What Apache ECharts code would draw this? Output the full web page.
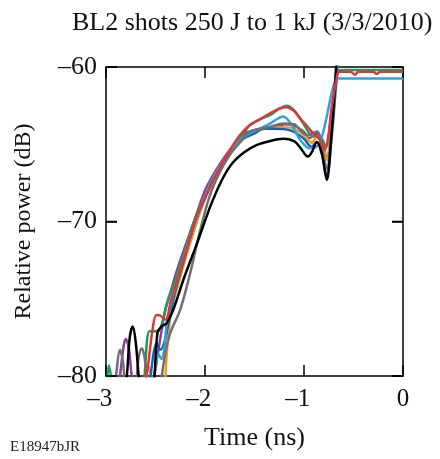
<!DOCTYPE html>
<html>
<head>
<meta charset="utf-8">
<script src="https://cdn.jsdelivr.net/npm/echarts@6/dist/echarts.min.js"></script>
<style>
html,body{margin:0;padding:0;background:#fff;}
#c{width:440px;height:459px;}
</style>
</head>
<body>
<div id="c"></div>
<script>
// Time (ns), relative power (dB) pairs
var purpleData = [[-2.92,-82.5],[-2.86,-80],[-2.82,-78],[-2.80,-77.6],[-2.77,-78.2],[-2.74,-80],[-2.68,-82.5],[-2.58,-82],[-2.5,-79.5],[-2.45,-77.5],[-2.40,-75.7],[-2.34,-74.4],[-2.29,-73.3],[-2.2,-71.6],[-2.1,-69.8],[-2.0,-68.0],[-1.9,-66.8],[-1.8,-65.8],[-1.7,-65.0],[-1.6,-64.3],[-1.5,-64.1],[-1.4,-64.0],[-1.3,-63.9],[-1.2,-63.7],[-1.1,-63.8],[-1.0,-64.2],[-0.95,-64.6],[-0.87,-64.3],[-0.81,-65.0],[-0.77,-66.0],[-0.72,-63.5],[-0.66,-59.5],[-0.6,-57],[0,-57]];
var greenData = [[-3.0,-81.5],[-2.97,-79.3],[-2.94,-80.5],[-2.9,-83],[-2.7,-83],[-2.62,-80.5],[-2.56,-77.1],[-2.5,-77.1],[-2.45,-76.9],[-2.38,-75.2],[-2.3,-73.8],[-2.2,-71.8],[-2.1,-69.8],[-2.0,-68.3],[-1.9,-67.0],[-1.8,-65.9],[-1.7,-65.0],[-1.6,-64.2],[-1.545,-63.75],[-1.45,-63.4],[-1.34,-63.1],[-1.25,-62.7],[-1.175,-62.5],[-1.1,-62.8],[-1.007,-63.65],[-0.906,-64.5],[-0.84,-64.5],[-0.78,-65.16],[-0.72,-62.8],[-0.66,-60.3],[-0.6,-60.2],[0,-60.2]];
var orangeData = [[-2.64,-82],[-2.59,-80],[-2.57,-79.4],[-2.54,-80.2],[-2.5,-83],[-2.43,-83],[-2.40,-80],[-2.37,-77.2],[-2.33,-75.5],[-2.25,-73.6],[-2.15,-71.4],[-2.05,-69.4],[-1.95,-67.7],[-1.85,-66.5],[-1.75,-65.5],[-1.65,-64.8],[-1.55,-64.3],[-1.45,-64.0],[-1.35,-63.9],[-1.2,-63.9],[-1.1,-64.0],[-1.0,-64.4],[-0.92,-64.9],[-0.87,-64.5],[-0.82,-65.0],[-0.77,-66.0],[-0.72,-63.5],[-0.67,-60.5],[-0.63,-58],[-0.6,-57],[0,-57]];
var blueData = [[-2.58,-82],[-2.53,-79],[-2.49,-77.9],[-2.45,-78.3],[-2.41,-77.8],[-2.36,-76.3],[-2.3,-74.5],[-2.2,-72.2],[-2.1,-70.0],[-2.0,-68.5],[-1.9,-67.1],[-1.8,-66.0],[-1.7,-65.2],[-1.6,-64.6],[-1.5,-64.3],[-1.41,-64.0],[-1.3,-64.0],[-1.14,-64.1],[-1.007,-64.6],[-0.923,-65.16],[-0.87,-64.85],[-0.82,-65.6],[-0.77,-67.1],[-0.72,-64.5],[-0.68,-61.5],[-0.64,-58.5],[-0.6,-57],[0,-57]];
var lightBlueData = [[-2.55,-82],[-2.5,-79.5],[-2.47,-78.6],[-2.44,-78.9],[-2.41,-78.2],[-2.39,-76.8],[-2.33,-75.0],[-2.25,-73.2],[-2.15,-71.0],[-2.05,-69.2],[-1.95,-67.6],[-1.85,-66.4],[-1.75,-65.5],[-1.65,-64.8],[-1.55,-64.3],[-1.45,-64.0],[-1.35,-63.7],[-1.28,-63.4],[-1.21,-63.2],[-1.12,-63.8],[-1.04,-64.7],[-0.94,-65.26],[-0.855,-65.05],[-0.81,-64.3],[-0.77,-63.2],[-0.704,-61.27],[-0.66,-60.73],[-0.6,-60.75],[0,-60.75]];
var grayData = [[-2.93,-82],[-2.89,-79.5],[-2.86,-78.3],[-2.83,-79],[-2.79,-81],[-2.72,-81],[-2.67,-78.8],[-2.64,-78.2],[-2.61,-78.8],[-2.57,-81],[-2.5,-82],[-2.45,-80.5],[-2.40,-78.5],[-2.35,-77.2],[-2.25,-75.7],[-2.15,-73.35],[-2.05,-70.6],[-1.95,-68.3],[-1.85,-66.8],[-1.75,-65.7],[-1.65,-64.9],[-1.55,-64.2],[-1.45,-64.0],[-1.35,-63.9],[-1.21,-63.65],[-1.1,-63.7],[-1.07,-63.86],[-0.97,-64.4],[-0.87,-64.18],[-0.82,-65.2],[-0.77,-66.6],[-0.72,-64.0],[-0.687,-61.5],[-0.65,-58.5],[-0.6,-57],[0,-57]];
var blackData = [[-2.85,-83],[-2.79,-80],[-2.76,-77.5],[-2.73,-76.8],[-2.70,-77.8],[-2.67,-80],[-2.62,-83],[-2.55,-82.5],[-2.51,-80],[-2.48,-77.2],[-2.44,-76.8],[-2.39,-76.6],[-2.32,-75.7],[-2.22,-73.8],[-2.08,-71.4],[-1.98,-69.6],[-1.92,-68.6],[-1.82,-67.2],[-1.72,-66.2],[-1.6,-65.5],[-1.48,-65.05],[-1.35,-64.8],[-1.21,-64.65],[-1.1,-64.8],[-1.04,-65.2],[-0.96,-65.8],[-0.92,-65.5],[-0.87,-64.85],[-0.82,-65.6],[-0.77,-67.3],[-0.73,-65],[-0.69,-61.5],[-0.65,-58],[-0.6,-57],[0,-57]];
var redData = [[-2.66,-82],[-2.58,-79.5],[-2.53,-77.0],[-2.49,-76.05],[-2.45,-76.1],[-2.40,-76.35],[-2.34,-75.0],[-2.29,-74.0],[-2.185,-71.85],[-2.085,-69.7],[-1.98,-68.2],[-1.882,-66.88],[-1.76,-65.5],[-1.646,-64.4],[-1.545,-63.75],[-1.45,-63.4],[-1.343,-63.0],[-1.25,-62.7],[-1.175,-62.6],[-1.1,-62.85],[-1.04,-63.32],[-0.96,-63.9],[-0.906,-64.3],[-0.84,-64.7],[-0.79,-65.37],[-0.755,-64.5],[-0.72,-62.6],[-0.66,-60.4],[-0.64,-60.3],[-0.53,-60.3],[-0.485,-60.5],[-0.45,-60.3],[-0.3,-60.3],[-0.266,-60.45],[-0.23,-60.3],[0,-60.3]];

var seriesNames = ['purple','green','orange','blue','lightblue','gray','black','red'];
var seriesValues = [purpleData, greenData, orangeData, blueData, lightBlueData, grayData, blackData, redData];
var seriesColors = ['#8a3f9e','#17a05a','#f39a1e','#1463b4','#2ea3e0','#707070','#000000','#e2333a'];

var xTicks = [-3, -2, -1, 0];
var yTicks = [-80, -70, -60];

var FONT = '"Liberation Serif","Times New Roman",serif';
function dash(v){ return v < 0 ? '\u2013' + Math.abs(v) : String(v); }

var chart = echarts.init(document.getElementById('c'), null, {renderer:'canvas'});
var line = {show:true, onZero:false, lineStyle:{color:'#000', width:1.5}};
var tick = {show:true, inside:true, length:11, lineStyle:{color:'#000', width:1.5}};
var TICK_LEN = 11;
var option = {
  animation:false,
  backgroundColor:'#fff',
  title:{
    text:'BL2 shots 250 J to 1 kJ (3/3/2010)',
    left:67, top:5,
    textStyle:{fontFamily:FONT, fontSize:26, fontWeight:'normal', color:'#111'}
  },
  graphic:[{
    type:'text', left:10, top:440,
    style:{text:'E18947bJR', fontFamily:FONT, fontSize:15, fill:'#222'}
  }],
  grid:{left:106, top:67, width:297, height:309, containLabel:false, show:false},
  xAxis:[{
    type:'value', min:-3, max:0, interval:1, position:'bottom',
    name:'Time (ns)', nameLocation:'middle', nameGap:49,
    nameTextStyle:{fontFamily:FONT, fontSize:26, color:'#111'},
    axisLine:line, axisTick:tick, splitLine:{show:false},
    axisLabel:{fontFamily:FONT, fontSize:25, color:'#111', margin:11,
      formatter:function(v){ return xTicks.indexOf(v) < 0 ? '' : (v < 0 ? dash(v) + '\u2002' : dash(v)); }}
  },{
    type:'value', min:-3, max:0, interval:1, position:'top',
    axisLine:line, axisTick:tick, axisLabel:{show:false}, splitLine:{show:false}
  }],
  yAxis:[{
    type:'value', min:-80, max:-60, interval:10, position:'left',
    name:'Relative power (dB)', nameLocation:'middle', nameGap:70,
    nameTextStyle:{fontFamily:FONT, fontSize:24, color:'#111'},
    axisLine:line, axisTick:tick, splitLine:{show:false},
    axisLabel:{fontFamily:FONT, fontSize:26, color:'#111', margin:9,
      formatter:function(v){ return yTicks.indexOf(v) < 0 ? '' : dash(v); }}
  },{
    type:'value', min:-80, max:-60, interval:10, position:'right',
    axisLine:line, axisTick:tick, axisLabel:{show:false}, splitLine:{show:false}
  }],
  series: seriesValues.map(function(d, i){
    return {
      name: seriesNames[i], type:'line', data:d, xAxisIndex:0, yAxisIndex:0,
      showSymbol:false, symbol:'none', smooth:0.35, clip:true,
      lineStyle:{color:seriesColors[i], width:2.5}, z: 2 + i
    };
  })
};
chart.setOption(option);

// Inward y ticks on both frame sides, placed through the axis scale
var extraTicks = [];
yTicks.forEach(function(v){
  var pL = chart.convertToPixel({xAxisIndex:0, yAxisIndex:0}, [xTicks[0], v]);
  var pR = chart.convertToPixel({xAxisIndex:0, yAxisIndex:0}, [xTicks[xTicks.length-1], v]);
  extraTicks.push({type:'line', z:50, silent:true,
    shape:{x1:pL[0], y1:pL[1], x2:pL[0] + TICK_LEN, y2:pL[1]},
    style:{stroke:'#000', lineWidth:1.5}});
  extraTicks.push({type:'line', z:50, silent:true,
    shape:{x1:pR[0] - TICK_LEN, y1:pR[1], x2:pR[0], y2:pR[1]},
    style:{stroke:'#000', lineWidth:1.5}});
});
chart.setOption({graphic: option.graphic.concat(extraTicks)});
</script>
</body>
</html>
